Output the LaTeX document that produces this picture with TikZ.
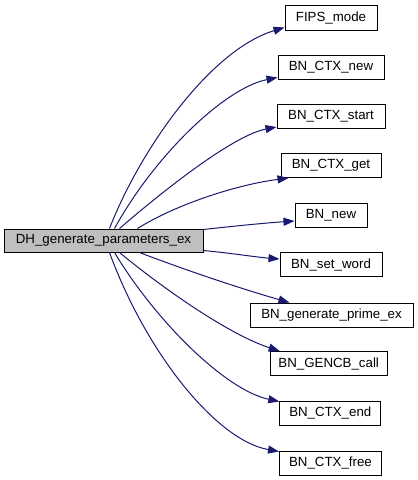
\documentclass[tikz,border=0pt]{standalone}
\usepackage{fontspec}
\setmainfont{Liberation Sans}
\usetikzlibrary{arrows.meta}
\definecolor{edgeblue}{HTML}{191970}
\definecolor{maingray}{HTML}{BFBFBF}
\begin{document}
\begin{tikzpicture}[x=1pt,y=-1pt,
  box/.style={draw=black,line width=1pt,fill=white,inner sep=0pt,minimum height=24pt,
    font=\fontsize{13.3}{15}\selectfont},
  mainbox/.style={box,fill=maingray},
  edge/.style={draw=edgeblue,line width=1pt,-{Triangle[length=11pt,width=8pt]}}]
\useasboundingbox (0,0) rectangle (418,480);
\node[mainbox,minimum width=199pt,minimum height=23pt] (main) at (103.5,240.5) {DH\_generate\_parameters\_ex};
\node[box,minimum width=92pt,minimum height=25pt] (fips) at (331,17.5) {FIPS\_mode};
\node[box,minimum width=106pt] (ctxnew) at (331,67) {BN\_CTX\_new};
\node[box,minimum width=108pt] (ctxstart) at (331,116.5) {BN\_CTX\_start};
\node[box,minimum width=100pt] (ctxget) at (331,165.5) {BN\_CTX\_get};
\node[box,minimum width=72pt] (bnnew) at (331,215) {BN\_new};
\node[box,minimum width=102pt] (setword) at (331,264.5) {BN\_set\_word};
\node[box,minimum width=163pt] (genprime) at (331.5,315) {BN\_generate\_prime\_ex};
\node[box,minimum width=117pt] (gencb) at (328.7,363.5) {BN\_GENCB\_call};
\node[box,minimum width=101pt] (ctxend) at (330.3,413) {BN\_CTX\_end};
\node[box,minimum width=102pt] (ctxfree) at (330.5,463) {BN\_CTX\_free};

\draw[edge] ([xshift=106pt]main.north west) .. controls (140,150) and (210,50) .. ([yshift=3pt]fips.south west);
\draw[edge] ([xshift=111pt]main.north west) .. controls (155,155) and (225,88) .. ([yshift=2pt]ctxnew.south west);
\draw[edge] ([xshift=116pt]main.north west) .. controls (170,185) and (235,135) .. ([yshift=2pt]ctxstart.south west);
\draw[edge] ([xshift=134pt]main.north west) .. controls (175,205) and (235,185) .. ([xshift=8pt]ctxget.south west);
\draw[edge] ([yshift=-1pt]main.north east) .. controls (235,226) and (265,223) .. ([yshift=-6pt]bnnew.west);
\draw[edge] ([yshift=2pt]main.south east) .. controls (230,253) and (255,257) .. ([yshift=5.5pt]setword.west);
\draw[edge] ([xshift=136pt]main.south west) .. controls (185,270) and (245,290) .. ([xshift=40pt]genprime.north west);
\draw[edge] ([xshift=116pt]main.south west) .. controls (165,290) and (230,335) .. ([xshift=10pt]gencb.north west);
\draw[edge] ([xshift=111pt]main.south west) .. controls (155,320) and (225,390) .. ([yshift=-1pt]ctxend.north west);
\draw[edge] ([xshift=106pt]main.south west) .. controls (145,350) and (215,440) .. ([yshift=-1pt]ctxfree.north west);
\end{tikzpicture}
\end{document}
